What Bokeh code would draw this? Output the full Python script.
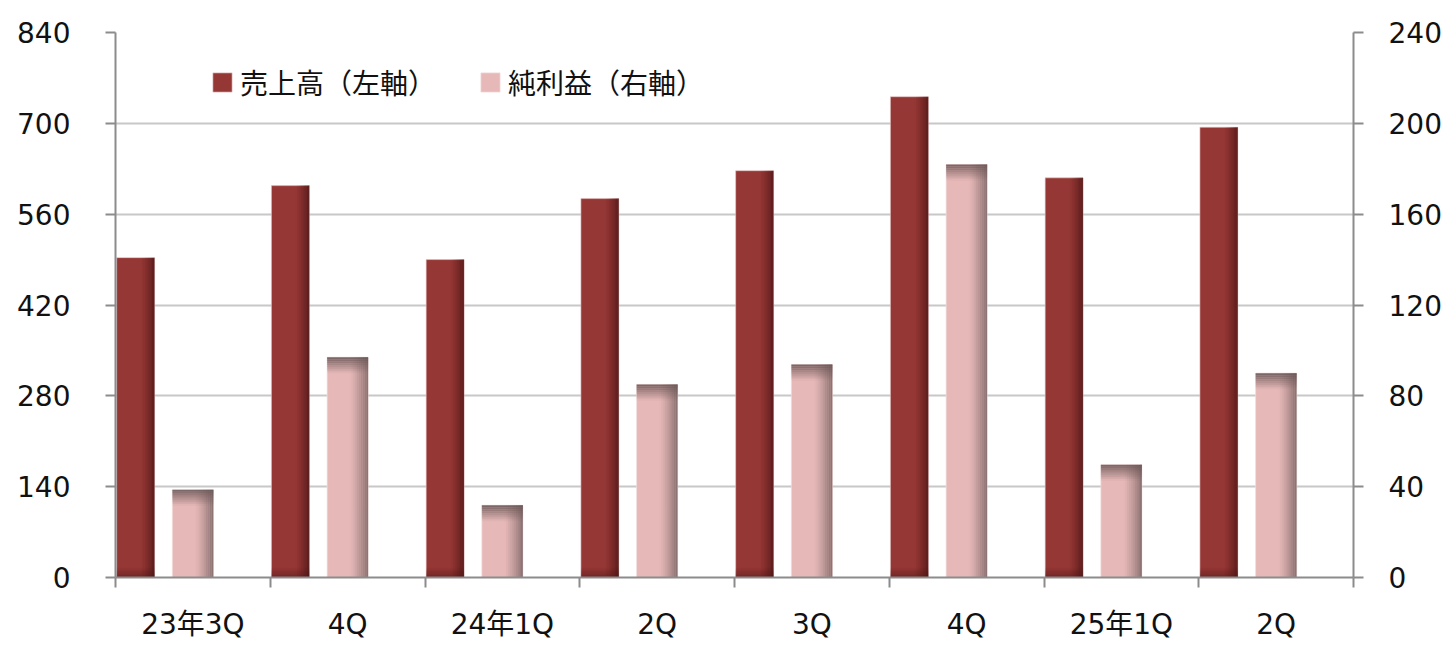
from bokeh.plotting import figure
from bokeh.models import Range1d, LinearAxis, FixedTicker, Legend, LegendItem
from bokeh.embed import file_html
from bokeh.resources import INLINE

# ---- data ----
categories = ["23年3Q", "4Q", "24年1Q", "2Q", "3Q", "4Q", "25年1Q", "2Q"]
sales = [493, 604, 490, 584, 627, 741, 616, 694]          # 売上高（左軸）
profit = [38.6, 97.0, 31.8, 85.0, 93.8, 181.9, 49.6, 90.0]  # 純利益（右軸）
left_ticks = [0, 140, 280, 420, 560, 700, 840]
right_ticks = [0, 40, 80, 120, 160, 200, 240]
series_names = ["売上高（左軸）", "純利益（右軸）"]

# ---- layout / style ----
W, H = 1446, 646
BL, BR, BT, BB = 115, 93, 32, 69
frame_h = H - BT - BB
NUM_FONT = "'DejaVu Sans', 'Noto Sans CJK JP'"
CJK_FONT = "'Noto Sans CJK JP'"
AXIS_COLOR = "#8c8c8c"
GRID_COLOR = "#c8c8c8"
RED, RED_DARK = "#953735", "#401010"
PINK, PINK_DARK = "#e6b9b8", "#6a5656"

n = len(categories)
p = figure(width=W, height=H, output_backend="svg", toolbar_location=None,
           x_range=Range1d(0, n), y_range=Range1d(0, left_ticks[-1]),
           min_border_left=BL, min_border_right=BR, min_border_top=BT, min_border_bottom=BB)
p.extra_y_ranges = {"right": Range1d(0, right_ticks[-1])}
p.outline_line_color = None
p.background_fill_color = "white"
p.border_fill_color = "white"

# positions within each category
red_w, pink_w = 0.245, 0.265
red_c = [i + 0.13 for i in range(n)]
pink_c = [i + 0.5 for i in range(n)]

def quad_set(centers, w, bottoms, tops, **kw):
    return dict(left=[c - w / 2 for c in centers], right=[c + w / 2 for c in centers],
                bottom=bottoms, top=tops, **kw)

# base bars
r_sales = p.quad(**quad_set(red_c, red_w, [0] * n, sales), fill_color=RED,
                 line_color="#e8c6c6", line_alpha=0.6, line_width=1)
r_profit = p.quad(**quad_set(pink_c, pink_w, [0] * n, profit), fill_color=PINK,
                  line_color="#f2dcdc", line_alpha=0.7, line_width=1, y_range_name="right")

# right-edge shading (vertical strips)
def right_shade(centers, w, tops, start, dark, amax, yr, steps=10):
    for k in range(steps):
        f0 = start + (1 - start) * k / steps
        f1 = start + (1 - start) * (k + 1) / steps
        a = amax * ((k + 0.5) / steps) ** 1.3
        p.quad(left=[c - w / 2 + w * f0 for c in centers],
               right=[c - w / 2 + w * f1 for c in centers],
               bottom=[0] * len(centers), top=tops,
               fill_color=dark, fill_alpha=a, line_color=None, y_range_name=yr)

right_shade(red_c, red_w, sales, 0.64, RED_DARK, 0.72, "default")
right_shade(pink_c, pink_w, profit, 0.55, PINK_DARK, 0.76, "right")

# top fade on profit bars
fade_units = 16 * right_ticks[-1] / frame_h
steps = 8
for k in range(steps):
    a = 0.9 * (1 - (k + 0.5) / steps) ** 1.0
    tops = [max(v - fade_units * k / steps, 0) for v in profit]
    bots = [max(v - fade_units * (k + 1) / steps, 0) for v in profit]
    p.quad(**quad_set(pink_c, pink_w, bots, tops), fill_color=PINK_DARK, fill_alpha=a,
           line_color=None, y_range_name="right")

# bottom shadow on sales bars
shade_units = 10 * left_ticks[-1] / frame_h
for k in range(steps):
    a = 0.45 * (1 - (k + 0.5) / steps)
    p.quad(**quad_set(red_c, red_w, [shade_units * k / steps] * n,
                      [shade_units * (k + 1) / steps] * n),
           fill_color=RED_DARK, fill_alpha=a, line_color=None)

# ---- axes ----
p.xgrid.visible = False
p.ygrid.ticker = FixedTicker(ticks=left_ticks)
p.ygrid.grid_line_color = GRID_COLOR
p.ygrid.grid_line_width = 2

xa = p.xaxis[0]
xa.ticker = FixedTicker(ticks=[i + 0.5 for i in range(n)], minor_ticks=list(range(n + 1)))
xa.major_label_overrides = {i + 0.5: lab for i, lab in enumerate(categories)}
xa.major_tick_out = 0
xa.major_tick_in = 0
xa.minor_tick_out = 10
xa.minor_tick_in = 0
xa.minor_tick_line_color = AXIS_COLOR
xa.minor_tick_line_width = 2
xa.axis_line_color = AXIS_COLOR
xa.axis_line_width = 2
xa.major_label_standoff = 20
xa.major_label_text_font = NUM_FONT
xa.major_label_text_font_size = "28px"
xa.major_label_text_color = "#111111"

ya = p.yaxis[0]
ya.ticker = FixedTicker(ticks=left_ticks, minor_ticks=[])
ya.major_tick_out = 10
ya.major_tick_in = 0
ya.major_tick_line_color = AXIS_COLOR
ya.major_tick_line_width = 2
ya.minor_tick_line_color = None
ya.axis_line_color = AXIS_COLOR
ya.axis_line_width = 2
ya.major_label_standoff = 35
ya.major_label_text_font = NUM_FONT
ya.major_label_text_font_size = "28px"
ya.major_label_text_color = "#111111"

ra = LinearAxis(y_range_name="right", ticker=FixedTicker(ticks=right_ticks, minor_ticks=[]))
ra.major_tick_out = 10
ra.major_tick_in = 0
ra.major_tick_line_color = AXIS_COLOR
ra.major_tick_line_width = 2
ra.minor_tick_line_color = None
ra.axis_line_color = AXIS_COLOR
ra.axis_line_width = 2
ra.major_label_standoff = 25
ra.major_label_text_font = NUM_FONT
ra.major_label_text_font_size = "28px"
ra.major_label_text_color = "#111111"
p.add_layout(ra, "right")

# ---- legend ----
legend = Legend(items=[LegendItem(label=series_names[0], renderers=[r_sales]),
                       LegendItem(label=series_names[1], renderers=[r_profit])],
                orientation="horizontal", location=(95, 475),
                glyph_width=24, glyph_height=24, label_standoff=6, spacing=42,
                label_text_font=CJK_FONT, label_text_font_size="28px",
                label_text_color="#111111", padding=0, margin=0,
                border_line_color=None, background_fill_alpha=0)
p.add_layout(legend)

open("out.html", "w").write(file_html(p, INLINE))
